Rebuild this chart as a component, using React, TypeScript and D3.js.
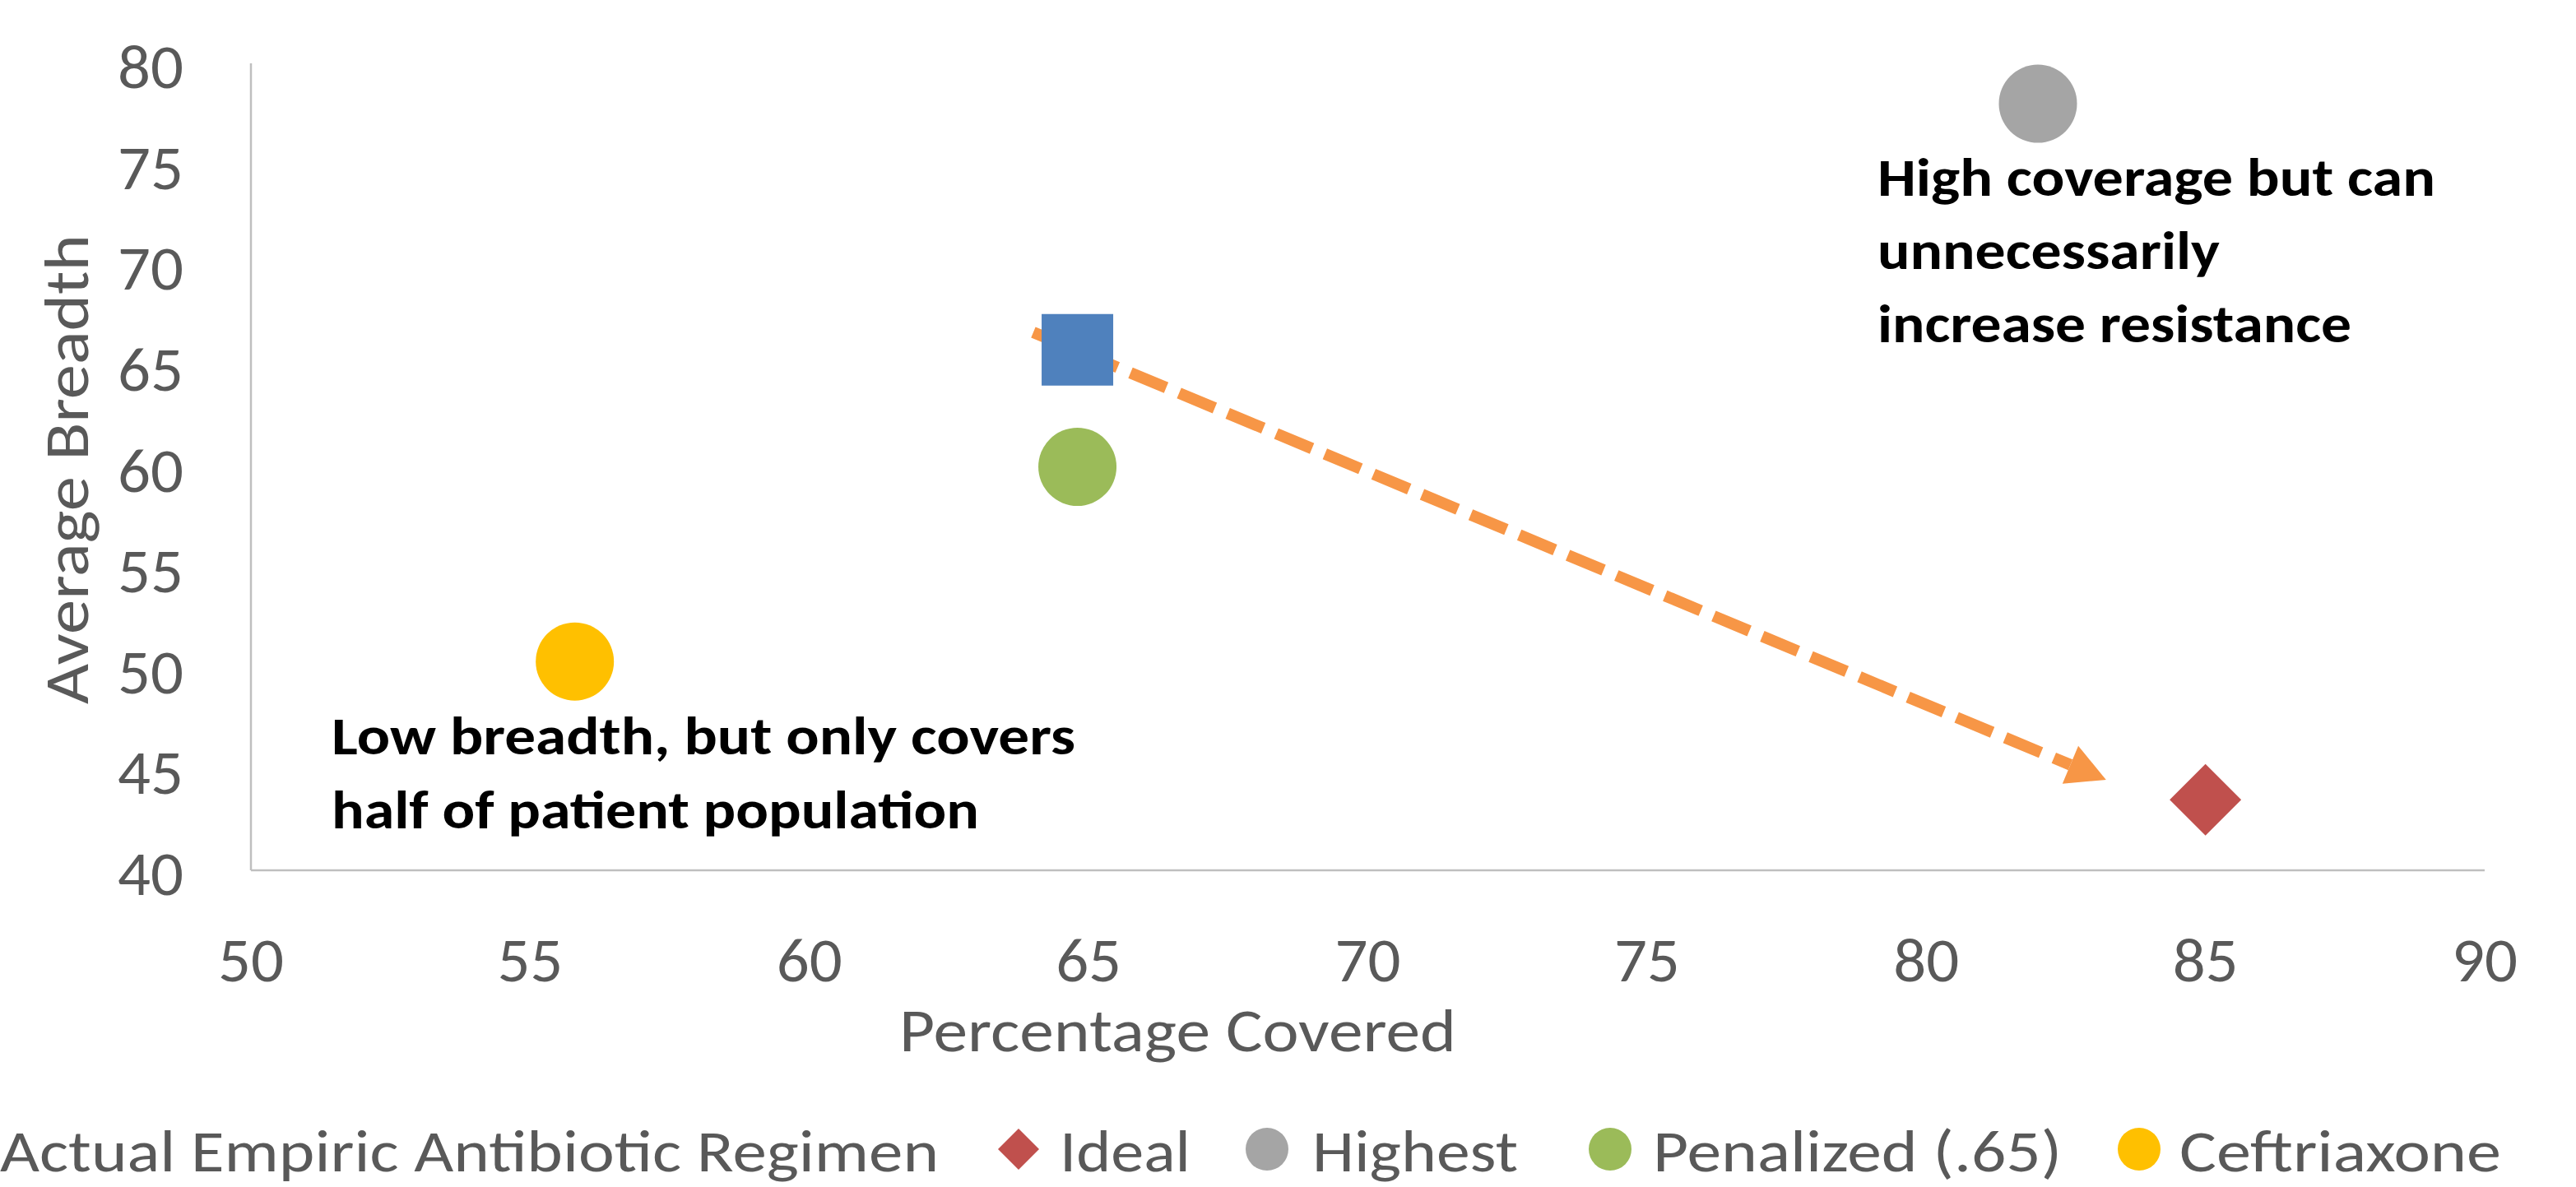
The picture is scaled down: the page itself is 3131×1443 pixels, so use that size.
import React from "react";
import * as d3 from "d3";

const W = 3131;
const H = 1443;

// Series (x = Percentage Covered, y = Average Breadth)
const seriesNames = ["Actual Empiric Antibiotic Regimen", "Ideal", "Highest", "Penalized (.65)", "Ceftriaxone"];
const seriesX = [64.8, 85.0, 82.0, 64.8, 55.8];
const seriesY = [65.8, 43.5, 78.0, 60.0, 50.35];
const seriesShape = ["square", "diamond", "circle", "circle", "circle"];
const seriesColor = ["#4F81BD", "#C0504D", "#A5A5A5", "#9BBB59", "#FFC000"];

const xTicks = [50, 55, 60, 65, 70, 75, 80, 85, 90];
const yTicks = [40, 45, 50, 55, 60, 65, 70, 75, 80];

// Arrow annotation endpoints (data units)
const arrowFrom = [64.01, 66.67];
const arrowTo = [83.22, 44.49];

const noteLow = ["Low breadth, but only covers", "half of patient population"];
const noteHigh = ["High coverage but can", "unnecessarily", "increase resistance"];

const FONT = "Carlito, Calibri, 'Open Sans', sans-serif";
const GREY = "#595959";

export default function App() {
  const x = d3.scaleLinear().domain([50, 90]).range([305, 3020]);
  const y = d3.scaleLinear().domain([40, 80]).range([1058, 77]);

  // arrow geometry
  const x0 = x(arrowFrom[0]);
  const y0 = y(arrowFrom[1]);
  const x1 = x(arrowTo[0]);
  const y1 = y(arrowTo[1]);
  const ang = Math.atan2(y1 - y0, x1 - x0);
  const headLen = 47;
  const headHalf = 25;
  const bx = x1 - headLen * Math.cos(ang);
  const by = y1 - headLen * Math.sin(ang);
  const px = -Math.sin(ang);
  const py = Math.cos(ang);
  const head = [
    [x1, y1],
    [bx + px * headHalf, by + py * headHalf],
    [bx - px * headHalf, by - py * headHalf],
  ];

  const marker = (shape: string, cx: number, cy: number, size: number, color: string, key: string) => {
    if (shape === "square") {
      return <rect key={key} x={cx - size / 2} y={cy - size / 2} width={size} height={size} fill={color} />;
    }
    if (shape === "diamond") {
      const h = size / 2;
      return (
        <polygon
          key={key}
          points={`${cx},${cy - h} ${cx + h},${cy} ${cx},${cy + h} ${cx - h},${cy}`}
          fill={color}
        />
      );
    }
    return <circle key={key} cx={cx} cy={cy} r={size / 2} fill={color} />;
  };

  const mainSize = [87, 87, 95, 95, 95];

  // legend layout
  const legendBaseline = 1424;
  const legendCy = 1397;
  const legendText = [
    { x0: 0, x1: 1141 },
    { x0: 1288, x1: 1447 },
    { x0: 1595, x1: 1845 },
    { x0: 2009, x1: 2506 },
    { x0: 2649, x1: 3040 },
  ];
  const legendMarkerX = [-52, 1238, 1540, 1957, 2600];
  const legendMarkerSize = [44, 50, 52, 52, 52];

  return (
    <svg
      width={W}
      height={H}
      viewBox={`0 0 ${W} ${H}`}
      style={{ position: "absolute", left: 0, top: 0, background: "#fff" }}
    >
      <rect x={0} y={0} width={W} height={H} fill="#fff" />

      {/* axes */}
      <line x1={x(50)} y1={y(80)} x2={x(50)} y2={y(40)} stroke="#BFBFBF" strokeWidth={2.5} />
      <line x1={x(50)} y1={y(40)} x2={x(90)} y2={y(40)} stroke="#BFBFBF" strokeWidth={2.5} />

      {/* y tick labels */}
      {yTicks.map((t) => (
        <text
          key={"y" + t}
          x={223}
          y={y(t) + 30}
          textAnchor="end"
          fontFamily={FONT}
          fontSize={76}
          fill={GREY}
          textLength={80}
          lengthAdjust="spacingAndGlyphs"
        >
          {t}
        </text>
      ))}

      {/* x tick labels */}
      {xTicks.map((t) => (
        <text
          key={"x" + t}
          x={x(t) - 40}
          y={1193}
          fontFamily={FONT}
          fontSize={76}
          fill={GREY}
          textLength={80}
          lengthAdjust="spacingAndGlyphs"
        >
          {t}
        </text>
      ))}

      {/* axis titles */}
      <text
        x={1093}
        y={1278}
        fontFamily={FONT}
        fontSize={74}
        fill={GREY}
        textLength={677}
        lengthAdjust="spacingAndGlyphs"
      >
        Percentage Covered
      </text>
      <text
        transform="translate(107,856) rotate(-90)"
        x={0}
        y={0}
        fontFamily={FONT}
        fontSize={76}
        fill={GREY}
        textLength={571}
        lengthAdjust="spacingAndGlyphs"
      >
        Average Breadth
      </text>

      {/* arrow annotation */}
      <line
        x1={x0}
        y1={y0}
        x2={bx}
        y2={by}
        stroke="#F79646"
        strokeWidth={14}
        strokeDasharray="47 17"
      />
      <polygon points={head.map((p) => p.join(",")).join(" ")} fill="#F79646" />

      {/* data markers */}
      {seriesNames.map((n, i) =>
        marker(seriesShape[i], x(seriesX[i]), y(seriesY[i]), mainSize[i], seriesColor[i], "m" + i)
      )}

      {/* annotations */}
      {noteLow.map((s, i) => (
        <text
          key={"nl" + i}
          x={403}
          y={917 + i * 90}
          fontFamily={FONT}
          fontWeight="bold"
          fontSize={64}
          fill="#000"
          textLength={[904, 787][i]}
          lengthAdjust="spacingAndGlyphs"
        >
          {s}
        </text>
      ))}
      {noteHigh.map((s, i) => (
        <text
          key={"nh" + i}
          x={2282}
          y={238 + i * 89}
          fontFamily={FONT}
          fontWeight="bold"
          fontSize={64}
          fill="#000"
          textLength={[678, 416, 576][i]}
          lengthAdjust="spacingAndGlyphs"
        >
          {s}
        </text>
      ))}

      {/* legend */}
      {seriesNames.map((n, i) => (
        <g key={"lg" + i}>
          {marker(seriesShape[i], legendMarkerX[i], legendCy, legendMarkerSize[i], seriesColor[i], "lm" + i)}
          <text
            x={legendText[i].x0}
            y={legendBaseline}
            fontFamily={FONT}
            fontSize={72}
            fill={GREY}
            textLength={legendText[i].x1 - legendText[i].x0}
            lengthAdjust="spacingAndGlyphs"
          >
            {n}
          </text>
        </g>
      ))}
    </svg>
  );
}
